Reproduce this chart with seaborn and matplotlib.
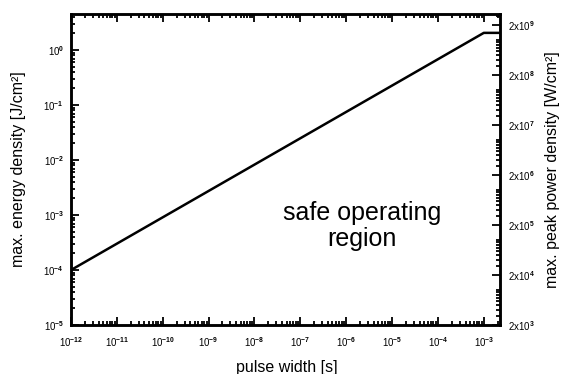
import numpy as np
import pandas as pd
import matplotlib
matplotlib.use('Agg')
import matplotlib.pyplot as plt
import matplotlib.ticker as mticker
import seaborn as sns

# values
pulse_width = [1e-12, 1e-3, 2.2e-3]
energy_density = [1e-4, 2.05, 2.05]
x_decades = [-12, -11, -10, -9, -8, -7, -6, -5, -4, -3]
y_decades = [-5, -4, -3, -2, -1, 0]
power_decades = [3, 4, 5, 6, 7, 8, 9]

sns.set_style('ticks')
plt.rcParams['font.family'] = ['Liberation Sans', 'DejaVu Sans']
plt.rcParams['mathtext.fontset'] = 'custom'
plt.rcParams['mathtext.rm'] = 'Liberation Sans:bold'
plt.rcParams['mathtext.default'] = 'rm'
plt.rcParams['text.color'] = 'black'
plt.rcParams['axes.labelcolor'] = 'black'
plt.rcParams['axes.edgecolor'] = 'black'
plt.rcParams['xtick.color'] = 'black'
plt.rcParams['ytick.color'] = 'black'

df = pd.DataFrame({'pulse width': pulse_width, 'energy': energy_density})

fig = plt.figure(figsize=(5.65, 3.74), dpi=100)
ax = fig.add_axes([0.1257, 0.131, 0.759, 0.8316])
sns.lineplot(data=df, x='pulse width', y='energy', color='black', linewidth=1.8, ax=ax)
ax.set_xscale('log')
ax.set_yscale('log')
ax.set_xlim(1e-12, 10 ** (-12 + 9.35))
ax.set_ylim(1e-5, 10 ** 0.655)

ax.xaxis.set_major_locator(mticker.FixedLocator([10.0 ** d for d in x_decades]))
ax.xaxis.set_major_formatter(mticker.FixedFormatter(['10$^{%d}$' % d for d in x_decades]))
ax.yaxis.set_major_locator(mticker.FixedLocator([10.0 ** d for d in y_decades]))
ax.yaxis.set_major_formatter(mticker.FixedFormatter(['10$^{%d}$' % d for d in y_decades]))
ax.xaxis.set_minor_locator(mticker.LogLocator(base=10, subs=np.arange(2, 10), numticks=30))
ax.yaxis.set_minor_locator(mticker.LogLocator(base=10, subs=np.arange(2, 10), numticks=30))
ax.xaxis.set_minor_formatter(mticker.NullFormatter())
ax.yaxis.set_minor_formatter(mticker.NullFormatter())
ax.tick_params(which='both', direction='in', top=True, labelsize=7, width=1.3)
ax.tick_params(which='major', length=6)
ax.tick_params(which='minor', length=3)
ax.tick_params(axis='x', which='major', pad=7)
ax.tick_params(axis='y', which='major', pad=5)
for s in ax.spines.values():
    s.set_linewidth(1.8)

ax.set_xlabel('pulse width [s]', fontsize=11.5)
ax.set_ylabel('max. energy density [J/cm²]', fontsize=11.5)
ax.xaxis.set_label_coords(0.503, -0.112)
ax.yaxis.set_label_coords(-0.105, 0.5)

ax2 = ax.twinx()
ax2.set_yscale('log')
ax2.set_ylim(2e3, 2e3 * 10 ** 6.22)
ax2.yaxis.set_major_locator(mticker.FixedLocator([2 * 10.0 ** d for d in power_decades]))
ax2.yaxis.set_major_formatter(mticker.FixedFormatter(['2x10$^{%d}$' % d for d in power_decades]))
ax2.yaxis.set_minor_locator(mticker.LogLocator(base=10, subs=np.arange(1, 10), numticks=30))
ax2.yaxis.set_minor_formatter(mticker.NullFormatter())
ax2.tick_params(which='both', direction='in', labelsize=7, width=1.3)
ax2.tick_params(which='major', length=6, pad=6)
ax2.tick_params(which='minor', length=3)
ax2.set_ylabel('max. peak power density [W/cm²]', fontsize=11.5)
ax2.yaxis.set_label_coords(1.105, 0.5)
for s in ax2.spines.values():
    s.set_linewidth(1.8)

ax.text(0.678, 0.318, 'safe operating\nregion', transform=ax.transAxes,
        ha='center', va='center', fontsize=18, linespacing=1.1)

plt.savefig('out.png', dpi=100)
